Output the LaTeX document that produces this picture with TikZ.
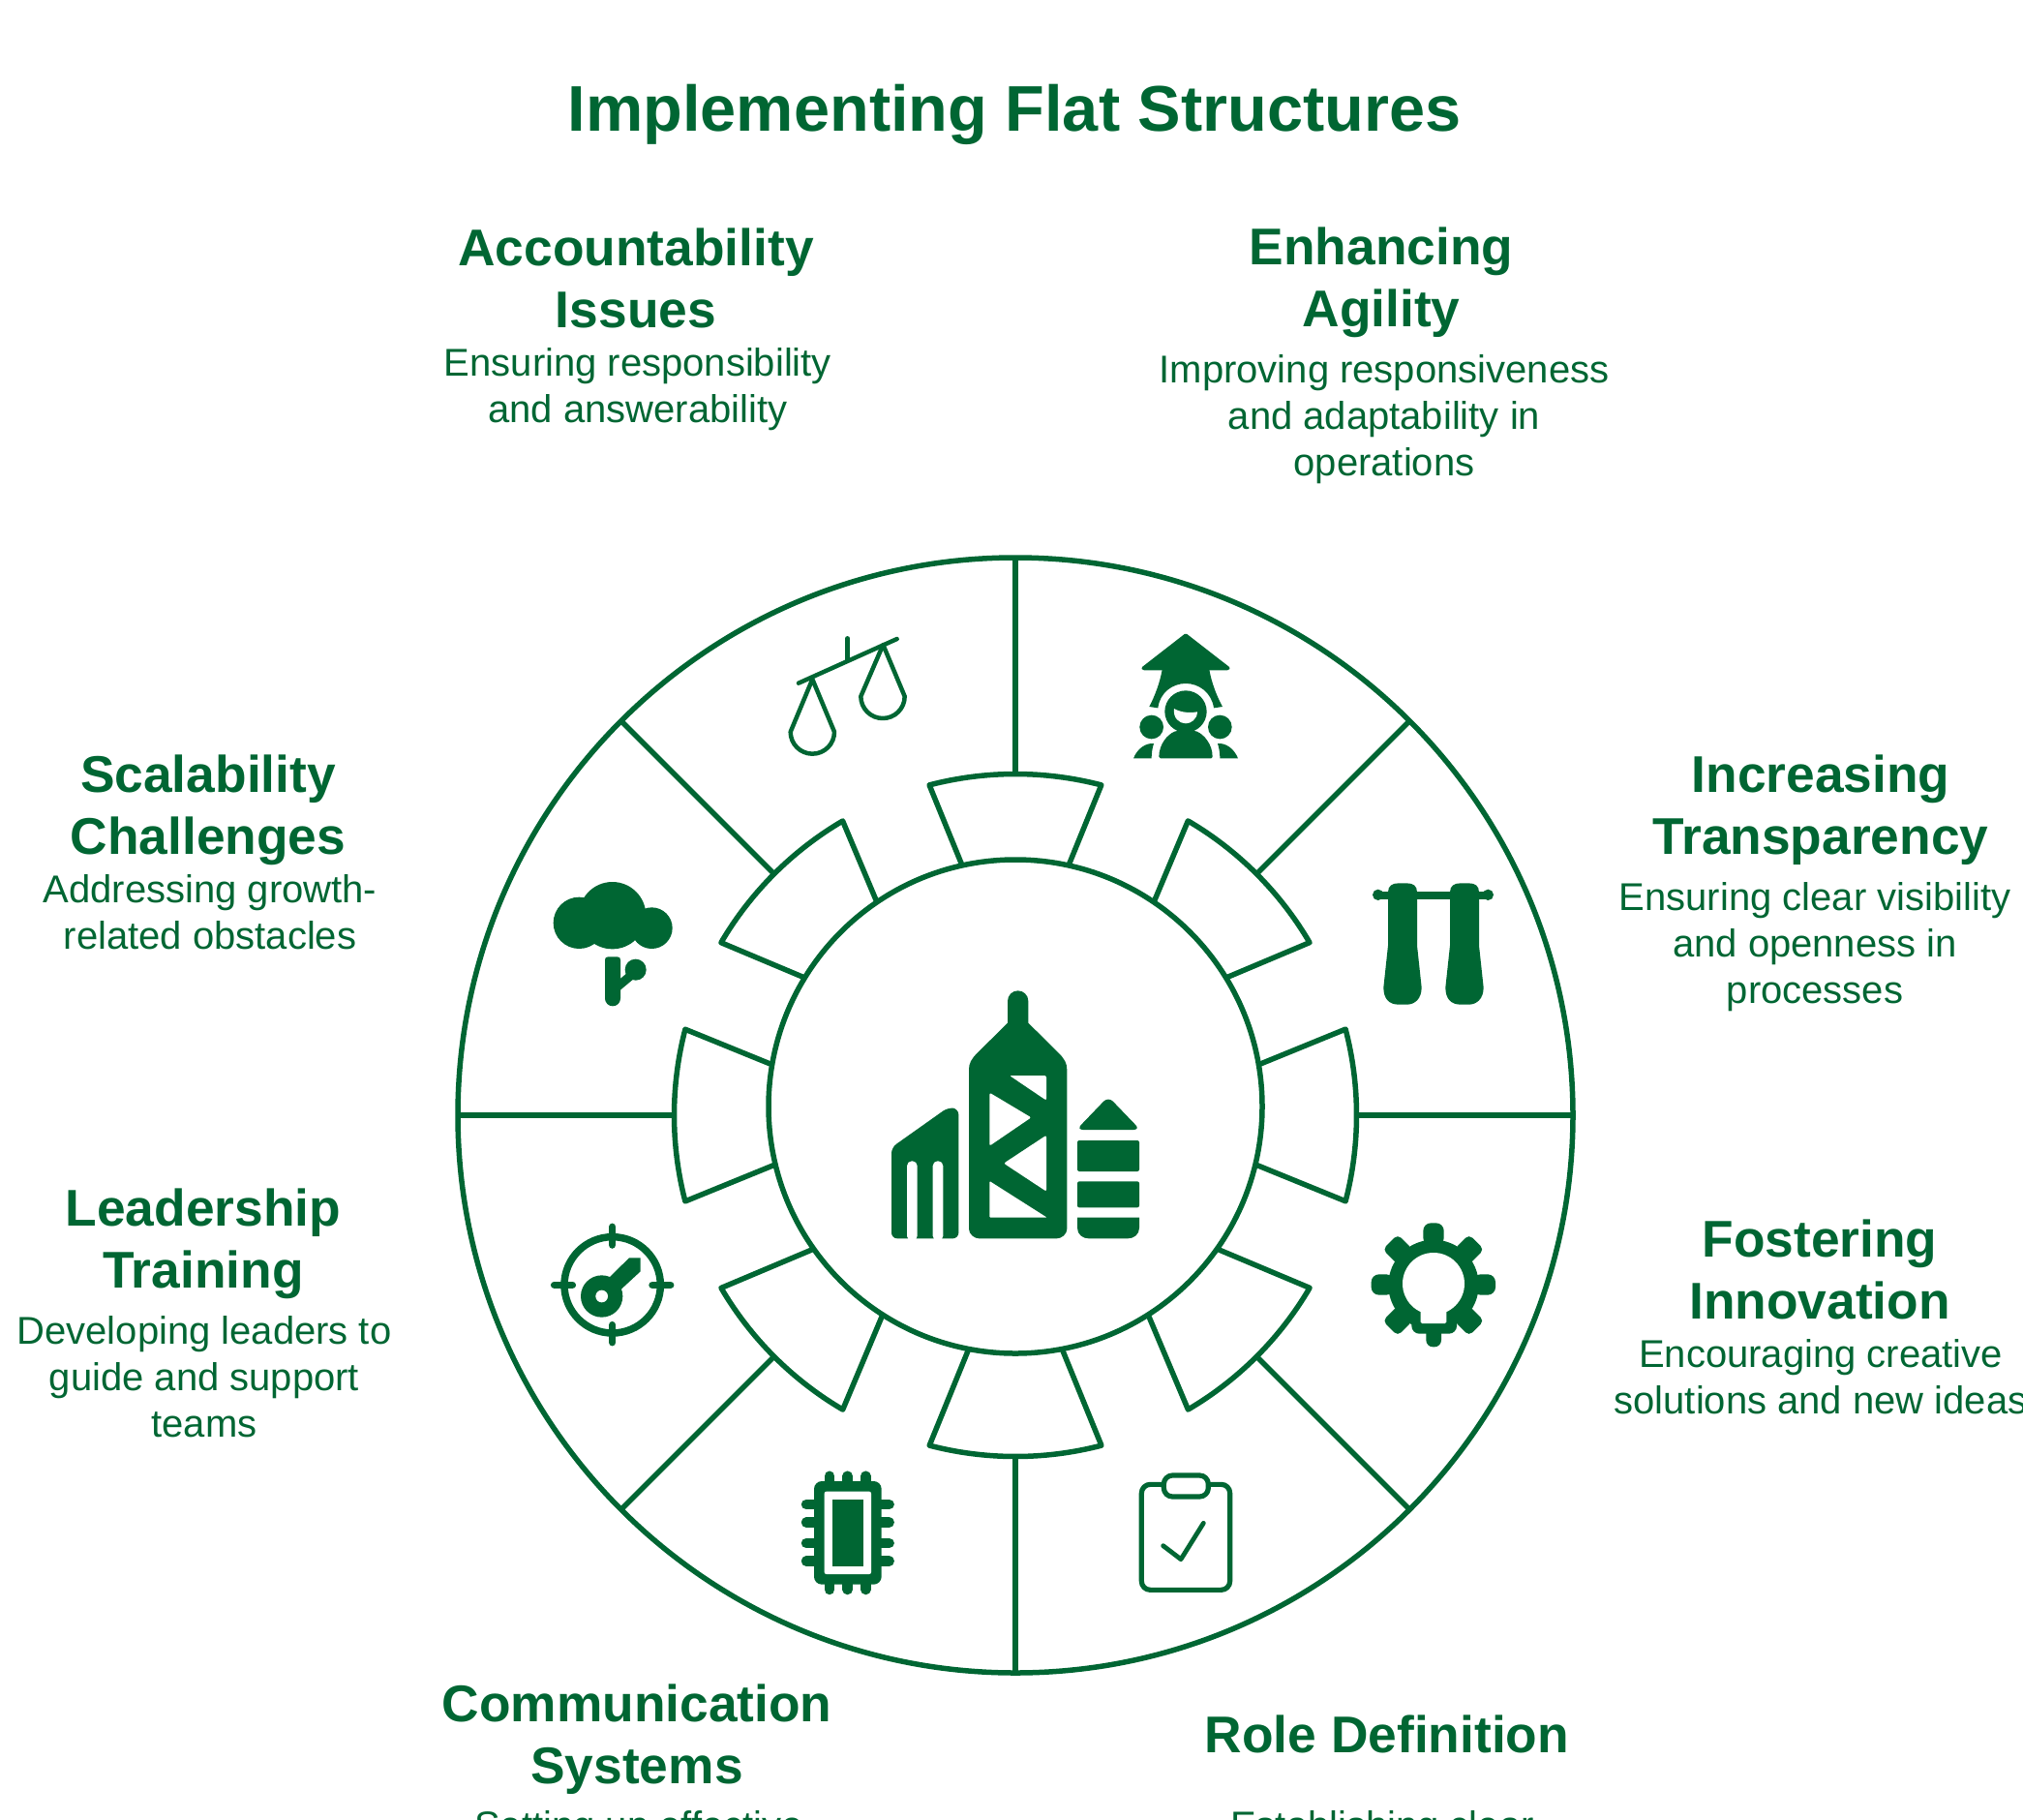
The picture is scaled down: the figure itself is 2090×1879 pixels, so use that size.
\documentclass[tikz,border=0pt]{standalone}
\usepackage{fontspec}
\setmainfont{Liberation Sans}
\definecolor{lgreen}{HTML}{006633}
\tikzset{
  px/.style={x=1pt,y=-1pt},
  zm/.style 2 args={shift={(#1pt,-#2pt)},x=.33333pt,y=-.33333pt},
  ring/.style={draw=lgreen,line width=5.5pt,line join=round},
  titletext/.style={text=lgreen,inner sep=0pt,align=center,font=\fontsize{66.67}{80}\selectfont\bfseries},
  headtext/.style={text=lgreen,inner sep=0pt,align=center,font=\fontsize{53.33}{64}\selectfont\bfseries},
  desctext/.style={text=lgreen,inner sep=0pt,align=center,font=\fontsize{40}{48}\selectfont},
  solid icon/.style={fill=lgreen,draw=none},
  line icon/.style={draw=lgreen,line cap=round,line join=round},
}
\begin{document}
\begin{tikzpicture}[px]
\useasboundingbox (0,0) rectangle (2090,1879);
\clip (0,0) rectangle (2090,1879);
\fill[white] (0,0) rectangle (2090,1879);

% outer disc, spokes and wedges
\coordinate (hub) at (1049,1152);
\coordinate (core) at (1049,1143);
\draw[ring] (hub) circle[radius=576pt];
\foreach \a in {0,45,...,315}{
  \begin{scope}[shift={(1049pt,-1152pt)},rotate=-\a]
    \draw[ring] (0,-576) -- (0,-352.5);
    \draw[ring] (-45.6,-235) -- (-88.9,-341.1) arc[start angle=104.6,end angle=75.4,radius=352.5pt] -- (45.6,-235);
  \end{scope}
}
\draw[ring,fill=white] (core) circle[radius=255pt];

% centre: buildings
\begin{scope}[zm={880}{1000}]
  \fill[solid icon,rounded corners=6pt] (123,838) -- (123,556) -- (298,432) -- (331,436) -- (331,838) -- cycle;
  \fill[white,rounded corners=5pt] (171,845) -- (171,598) -- (203,598) -- (203,845) -- cycle;
  \fill[white,rounded corners=5pt] (251,845) -- (251,598) -- (283,598) -- (283,845) -- cycle;
  \fill[solid icon] (483,170) -- (483,102) arc[start angle=180,end angle=360,radius=32] -- (547,170) -- (640,262) .. controls (660,282) and (667,295) .. (667,315) -- (667,808) .. controls (667,825) and (650,838) .. (635,838) -- (395,838) .. controls (380,838) and (363,825) .. (363,808) -- (363,315) .. controls (363,295) and (370,282) .. (390,262) -- cycle;
  \fill[white,rounded corners=2pt] (489,333) -- (603,333) -- (603,410) -- cycle;
  \fill[white,rounded corners=2pt] (427,386) -- (556,463) -- (427,551) -- cycle;
  \fill[white,rounded corners=2pt] (603,518) -- (603,692) -- (471,605) -- cycle;
  \fill[white,rounded corners=1pt] (427,660) -- (605,773) -- (427,773) -- cycle;
  \fill[solid icon,rounded corners=7pt] (696,501) -- (795,398) -- (894,501) -- cycle;
  \fill[solid icon,rounded corners=2pt] (699,534) rectangle (891,630);
  \fill[solid icon,rounded corners=2pt] (699,661) rectangle (891,742);
  \fill[solid icon] (699,773) -- (891,773) -- (891,805) .. controls (891,825) and (875,838) .. (855,838) -- (735,838) .. controls (715,838) and (699,825) .. (699,805) -- cycle;
\end{scope}

% scales
\begin{scope}[zm={780}{630}]
  \draw[line icon,line width=4.5pt] (135,227) -- (440,90);
  \draw[line icon,line width=4.5pt] (287,88) -- (287,155);
  \draw[line icon,line width=4.5pt] (178,215) -- (110,378) arc[start angle=180,end angle=0,radius=68] -- cycle;
  \draw[line icon,line width=4.5pt] (397,108) -- (328,268) arc[start angle=180,end angle=0,radius=68] -- cycle;
\end{scope}

% person with arrow
\begin{scope}[zm={780}{630}]
  \fill[solid icon,rounded corners=1.5pt] (1335,72) -- (1474,180) -- (1468,187) -- (1202,187) -- (1196,180) -- cycle;
  \fill[solid icon] (1262,185) .. controls (1255,225) and (1240,265) .. (1222,300) -- (1249,304) .. controls (1255,255) and (1295,228) .. (1335,228) .. controls (1375,228) and (1415,255) .. (1422,304) -- (1449,300) .. controls (1430,265) and (1415,225) .. (1408,185) -- cycle;
  \fill[solid icon] (1335,315) circle[radius=65];
  \fill[solid icon,rounded corners=1.5pt] (1252,460) .. controls (1252,415) and (1280,385) .. (1305,375) -- (1365,375) .. controls (1390,385) and (1418,415) .. (1418,460) -- cycle;
  \fill[white] (1299,306) .. controls (1320,318) and (1345,320) .. (1371,316) .. controls (1370,340) and (1350,352) .. (1335,352) .. controls (1315,352) and (1295,335) .. (1299,306) -- cycle;
  \fill[solid icon] (1229,363) circle[radius=37];
  \fill[solid icon] (1441,363) circle[radius=37];
  \fill[solid icon] (1173,460) .. controls (1185,430) and (1210,412) .. (1236,414) .. controls (1231,430) and (1229,445) .. (1229,460) -- cycle;
  \fill[solid icon] (1497,460) .. controls (1485,430) and (1460,412) .. (1434,414) .. controls (1439,430) and (1441,445) .. (1441,460) -- cycle;
\end{scope}

% curtains
\begin{scope}[zm={1380}{880}]
  \fill[solid icon] (131,133) circle[radius=17];
  \fill[solid icon] (472,133) circle[radius=17];
  \fill[solid icon] (131,122) rectangle (472,146);
  \foreach \d in {0,192}{
  \begin{scope}[shift={(\d,0)}]
    \fill[solid icon] (162,290) -- (162,125) .. controls (162,105) and (175,97) .. (195,97) -- (220,97) .. controls (240,97) and (252,105) .. (252,125) -- (252,290) -- (266,420) .. controls (266,455) and (245,473) .. (220,473) -- (195,473) .. controls (165,473) and (148,455) .. (148,420) -- cycle;
  \end{scope}}
\end{scope}

% tree
\begin{scope}[zm={540}{880}]
  \fill[solid icon] (175,220) circle[radius=80];
  \fill[solid icon] (278,197) circle[radius=104];
  \fill[solid icon] (400,236) circle[radius=64];
  \fill[solid icon] (255,335) .. controls (255,328) and (258,325) .. (265,325) -- (293,325) .. controls (300,325) and (303,328) .. (303,335) -- (303,454) arc[start angle=0,end angle=180,radius=24] -- cycle;
  \fill[solid icon] (350,365) circle[radius=33];
  \draw[line icon,line width=9pt] (285,425) -- (345,375);
\end{scope}

% gear with bulb
\begin{scope}[zm={1380}{1240}]
  \fill[solid icon] (303,262) circle[radius=140];
  \fill[solid icon,rounded corners=8pt] (271,70) rectangle (335,140);
  \fill[solid icon,rounded corners=8pt] (110,229) rectangle (180,293);
  \fill[solid icon,rounded corners=8pt] (425,229) rectangle (495,293);
  \fill[solid icon,rounded corners=8pt] (235,340) rectangle (375,413);
  \fill[solid icon,rounded corners=7pt] (280,380) rectangle (327,454);
  \foreach \p/\q in {192/152,413/152,192/373,413/373}{
    \fill[solid icon,rounded corners=5pt,rotate around={45:(\p,\q)}] (\p-33,\q-33) rectangle (\p+33,\q+33);
  }
  \fill[white] (303,258) circle[radius=96];
  \fill[white,rounded corners=1.5pt] (263,320) rectangle (343,381);
\end{scope}

% target with key
\begin{scope}[zm={550}{1250}]
  \draw[draw=lgreen,line width=7.5pt] (248,232) circle[radius=149];
  \draw[line icon,line width=7.5pt] (248,52) -- (248,108);
  \draw[line icon,line width=7.5pt] (248,356) -- (248,410);
  \draw[line icon,line width=7.5pt] (68,232) -- (124,232);
  \draw[line icon,line width=7.5pt] (372,232) -- (428,232);
  \fill[solid icon] (215,267) circle[radius=65];
  \fill[solid icon] (235,212) -- (300,148) -- (335,148) -- (335,190) -- (270,250) -- cycle;
  \fill[white] (215,267) circle[radius=19];
\end{scope}

% chip
\begin{scope}[zm={810}{1500}]
  \foreach \p in {141,197,253}{
    \draw[line icon,line width=10.5pt] (\p,74) -- (\p,426);
  }
  \foreach \q in {162,218,282,338}{
    \draw[line icon,line width=10.5pt] (69,\q) -- (326,\q);
  }
  \fill[solid icon,rounded corners=8pt] (93,90) rectangle (302,410);
  \fill[white,rounded corners=2pt] (125,122) rectangle (270,378);
  \fill[solid icon] (149,146) rectangle (245,354);
\end{scope}

% clipboard
\begin{scope}[zm={1160}{1510}]
  \draw[line icon,line width=5.2pt,rounded corners=9pt] (58,70) rectangle (332,397);
  \draw[line icon,line width=5.2pt,rounded corners=9pt,fill=white] (127,42) rectangle (265,108);
  \draw[line icon,line width=4.8pt] (125,260) -- (180,302) -- (250,190);
\end{scope}

% texts
\node[titletext] (title) at (1048,118) {Implementing Flat Structures};

\node[headtext] (h1) at (657,287) {Accountability\\Issues};
\node[desctext] (d1) at (659,402) {Ensuring responsibility\\and answerability};
\node[headtext] (h2) at (1427,292) {Enhancing\\Agility};
\node[desctext] (d2) at (1430,433) {Improving responsiveness\\and adaptability in\\operations};
\node[headtext] (h3) at (1881,837) {Increasing\\Transparency};
\node[desctext] (d3) at (1875,978) {Ensuring clear visibility\\and openness in\\processes};
\node[headtext] (h4) at (1880,1311) {Fostering\\Innovation};
\node[desctext] (d4) at (1881,1422) {Encouraging creative\\solutions and new ideas};
\node[headtext] (h5) at (1433,1791) {Role Definition};
\node[desctext,anchor=base] (d5) at (1428,1899) {Establishing clear};
\node[headtext] (h6) at (658,1797) {Communication\\Systems};
\node[desctext,anchor=base] (d6) at (660,1899) {Setting up effective};
\node[headtext] (h7) at (210,1285) {Leadership\\Training};
\node[desctext] (d7) at (211,1422) {Developing leaders to\\guide and support\\teams};
\node[headtext] (h8) at (215,837) {Scalability\\Challenges};
\node[desctext] (d8) at (217,942) {Addressing growth-\\related obstacles};
\end{tikzpicture}
\end{document}
